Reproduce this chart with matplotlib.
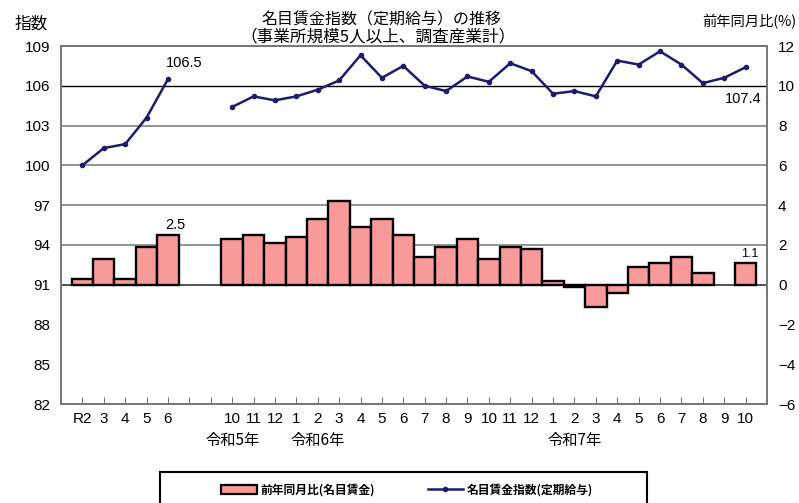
import matplotlib
matplotlib.use('Agg')
import matplotlib.pyplot as plt
import numpy as np
from matplotlib.patches import Patch, Rectangle
from matplotlib.lines import Line2D
from matplotlib.transforms import blended_transform_factory

plt.rcParams['font.family'] = ['Liberation Sans', 'Noto Sans CJK JP', 'DejaVu Sans']

# categories (two empty slots between the annual and the monthly part)
month_labels = ['R2', '3', '4', '5', '6', '', '',
                '10', '11', '12',
                '1', '2', '3', '4', '5', '6', '7', '8', '9', '10', '11', '12',
                '1', '2', '3', '4', '5', '6', '7', '8', '9', '10']
year_labels = ['令和5年', '令和6年', '令和7年']
year_slots = [7, 11, 23]

nan = np.nan
# 名目賃金指数(定期給与)  left axis
wage_index = [100.0, 101.3, 101.6, 103.6, 106.5, nan, nan,
              104.4, 105.2, 104.9,
              105.2, 105.7, 106.4, 108.3, 106.6, 107.5, 106.0, 105.6, 106.7, 106.3, 107.7, 107.1,
              105.4, 105.6, 105.2, 107.9, 107.6, 108.6, 107.6, 106.2, 106.6, 107.4]
# 前年同月比(名目賃金)  right axis, %
yoy_change = [0.3, 1.3, 0.3, 1.9, 2.5, nan, nan,
              2.3, 2.5, 2.1,
              2.4, 3.3, 4.2, 2.9, 3.3, 2.5, 1.4, 1.9, 2.3, 1.3, 1.9, 1.8,
              0.2, -0.1, -1.1, -0.4, 0.9, 1.1, 1.4, 0.6, nan, 1.1]

W, H = 799, 503
fig = plt.figure(figsize=(W / 100, H / 100), dpi=100)
ax1 = fig.add_axes([61 / W, 1 - 404 / H, (767 - 61) / W, (404 - 46) / H])
ax2 = ax1.twinx()
ax1.set_zorder(ax2.get_zorder() + 1)
ax1.patch.set_visible(False)

x = np.arange(len(month_labels))
ax1.set_xlim(-1, len(month_labels))
ax1.set_ylim(82, 109)
ax2.set_ylim(-6, 12)

# gridlines (left 91..106 == right 0..10)
for v in [2, 4, 6, 8]:
    ax2.axhline(v, color='#8a8a8a', lw=1.3, zorder=0)
ax2.axhline(10, color='black', lw=1.0, zorder=0)
ax2.axhline(0, color='#444444', lw=1.3, zorder=0)

ax2.bar(x, yoy_change, width=1.0, color='#F99A9A', edgecolor='black', lw=1.7, zorder=2)
ax1.plot(x, wage_index, color='#1c1c6e', lw=1.8, marker='o', ms=3, zorder=3)

ax1.set_yticks(np.arange(82, 110, 3))
ax2.set_yticks(np.arange(-6, 13, 2))
ax1.tick_params(axis='y', length=0, pad=8, labelsize=11)
ax2.tick_params(axis='y', length=0, pad=8, labelsize=11)
ax1.set_xticks(x)
ax1.set_xticklabels(month_labels)
ax1.tick_params(axis='x', direction='in', length=5, color='#777777', pad=6, labelsize=11)

for ax in (ax1, ax2):
    for s in ax.spines.values():
        s.set_color('#777777')
        s.set_linewidth(1.3)

# year labels
tr = blended_transform_factory(ax1.transData, fig.transFigure)
for lab, s in zip(year_labels, year_slots):
    ax1.text(s, 1 - 440 / H, lab, transform=tr, ha='center', va='center',
             fontsize=11, family=['Noto Sans CJK JP'])

# data labels
ax1.annotate('106.5', (4, wage_index[4]), xytext=(12, 11.5), textcoords='offset points',
             ha='center', va='center', fontsize=10.5)
ax1.annotate('107.4', (31, wage_index[31]), xytext=(-1.5, -23), textcoords='offset points',
             ha='center', va='center', fontsize=10.5)
ax2.annotate('2.5', (4, yoy_change[4]), xytext=(5, 7.5), textcoords='offset points',
             ha='center', va='center', fontsize=10.5)
ax2.annotate('1.1', (31, yoy_change[31]), xytext=(3, 6), textcoords='offset points',
             ha='center', va='center', fontsize=9)

# titles and axis captions
fig.text(381 / W, 1 - 20 / H, '名目賃金指数（定期給与）の推移', ha='center', va='center',
         fontsize=11.5, family=['Noto Sans CJK JP'])
fig.text(378 / W, 1 - 37 / H, '（事業所規模5人以上、調査産業計）', ha='center', va='center',
         fontsize=12, family=['Noto Sans CJK JP'])
fig.text(31 / W, 1 - 24 / H, '指数', ha='center', va='center', fontsize=12,
         family=['Noto Sans CJK JP'])
fig.text(749 / W, 1 - 22 / H, '前年同月比(%)', ha='center', va='center', fontsize=10.3,
         family=['Noto Sans CJK JP'])

# legend
handles = [Patch(facecolor='#F99A9A', edgecolor='black', lw=1.6),
           Line2D([], [], color='#1c1c6e', lw=1.8, marker='o', ms=3)]
labels = ['前年同月比(名目賃金)', '名目賃金指数(定期給与)']
fig.legend(handles, labels, loc='center', bbox_to_anchor=(407 / W, 1 - 490 / H), ncol=2,
           frameon=False, handlelength=3, handletextpad=0.3, columnspacing=4.5,
           prop={'family': ['Noto Sans CJK JP'], 'size': 8.5, 'weight': 'bold'})
fig.add_artist(Rectangle((160 / W, 1 - 515 / H), (647 - 160) / W, (515 - 472) / H,
                         transform=fig.transFigure, fill=False, edgecolor='black', lw=1.5))

fig.savefig('out.png', dpi=100)
